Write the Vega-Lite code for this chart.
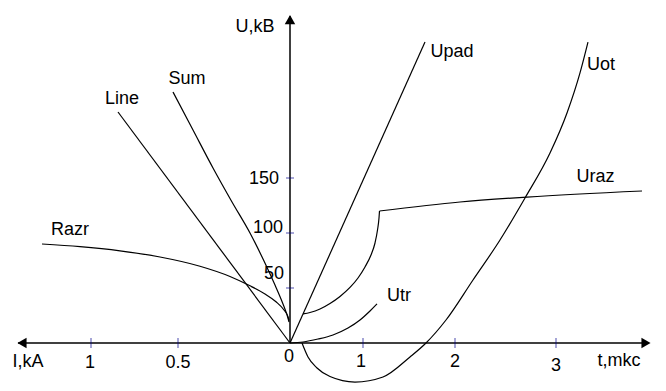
{
  "$schema": "https://vega.github.io/schema/vega-lite/v6.json",
  "width": 666,
  "height": 391,
  "autosize": {"type": "fit", "contains": "padding"},
  "padding": 0,
  "background": "white",
  "config": {"view": {"stroke": null}, "text": {"font": "Liberation Sans", "fontSize": 18, "color": "black"}},
  "datasets": {
    "curves": [
      {"seg": "Razr", "x": -2.48, "y": 90.0},
      {"seg": "Razr", "x": -2.10, "y": 87.6},
      {"seg": "Razr", "x": -1.70, "y": 83.8},
      {"seg": "Razr", "x": -1.30, "y": 78.2},
      {"seg": "Razr", "x": -0.90, "y": 69.8},
      {"seg": "Razr", "x": -0.60, "y": 60.5},
      {"seg": "Razr", "x": -0.40, "y": 52.0},
      {"seg": "Razr", "x": -0.25, "y": 44.5},
      {"seg": "Razr", "x": -0.14, "y": 37.5},
      {"seg": "Razr", "x": -0.06, "y": 30.0},
      {"seg": "Razr", "x": -0.02, "y": 24.0},
      {"seg": "Razr", "x": -0.01, "y": 20.5},
      {"seg": "Sum", "x": -1.17, "y": 228.2},
      {"seg": "Sum", "x": -0.97, "y": 193.6},
      {"seg": "Sum", "x": -0.77, "y": 159.1},
      {"seg": "Sum", "x": -0.58, "y": 128.2},
      {"seg": "Sum", "x": -0.40, "y": 100.0},
      {"seg": "Sum", "x": -0.26, "y": 74.5},
      {"seg": "Sum", "x": -0.15, "y": 52.7},
      {"seg": "Sum", "x": -0.07, "y": 35.5},
      {"seg": "Sum", "x": -0.03, "y": 25.5},
      {"seg": "Sum", "x": -0.01, "y": 19.1},
      {"seg": "Line", "x": -1.72, "y": 210.0},
      {"seg": "Line", "x": 0, "y": 0},
      {"seg": "Upad", "x": 0, "y": 0},
      {"seg": "Upad", "x": 1.35, "y": 273.6},
      {"seg": "Utr", "x": 0, "y": 0},
      {"seg": "Utr", "x": 0.13, "y": 0.9},
      {"seg": "Utr", "x": 0.28, "y": 3.6},
      {"seg": "Utr", "x": 0.43, "y": 7.3},
      {"seg": "Utr", "x": 0.58, "y": 13.6},
      {"seg": "Utr", "x": 0.70, "y": 20.9},
      {"seg": "Utr", "x": 0.80, "y": 29.1},
      {"seg": "Utr", "x": 0.87, "y": 35.5},
      {"seg": "Uraz-a", "x": 0.13, "y": 26.4},
      {"seg": "Uraz-a", "x": 0.20, "y": 27.7},
      {"seg": "Uraz-a", "x": 0.30, "y": 30.9},
      {"seg": "Uraz-a", "x": 0.40, "y": 35.9},
      {"seg": "Uraz-a", "x": 0.50, "y": 42.3},
      {"seg": "Uraz-a", "x": 0.60, "y": 50.5},
      {"seg": "Uraz-a", "x": 0.68, "y": 59.1},
      {"seg": "Uraz-a", "x": 0.75, "y": 69.1},
      {"seg": "Uraz-a", "x": 0.81, "y": 80.0},
      {"seg": "Uraz-a", "x": 0.85, "y": 90.9},
      {"seg": "Uraz-a", "x": 0.875, "y": 102.7},
      {"seg": "Uraz-a", "x": 0.89, "y": 113.6},
      {"seg": "Uraz-a", "x": 0.895, "y": 120.0},
      {"seg": "Uraz-b", "x": 0.895, "y": 120.0},
      {"seg": "Uraz-b", "x": 1.70, "y": 128.2},
      {"seg": "Uraz-b", "x": 2.37, "y": 132.7},
      {"seg": "Uraz-b", "x": 3.52, "y": 138.2},
      {"seg": "Uot", "x": 0.12, "y": 0},
      {"seg": "Uot", "x": 0.18, "y": -12.7},
      {"seg": "Uot", "x": 0.27, "y": -22.7},
      {"seg": "Uot", "x": 0.40, "y": -30.5},
      {"seg": "Uot", "x": 0.65, "y": -35.5},
      {"seg": "Uot", "x": 0.93, "y": -30.9},
      {"seg": "Uot", "x": 1.20, "y": -12.7},
      {"seg": "Uot", "x": 1.36, "y": 0},
      {"seg": "Uot", "x": 1.56, "y": 20.9},
      {"seg": "Uot", "x": 1.83, "y": 57.3},
      {"seg": "Uot", "x": 2.10, "y": 93.6},
      {"seg": "Uot", "x": 2.35, "y": 131.8},
      {"seg": "Uot", "x": 2.60, "y": 172.7},
      {"seg": "Uot", "x": 2.77, "y": 209.1},
      {"seg": "Uot", "x": 2.90, "y": 245.5},
      {"seg": "Uot", "x": 2.98, "y": 273.6}
    ],
    "axes": [
      {"x": -2.72, "y": 0, "x2": 3.58, "y2": 0},
      {"x": 0, "y": 0, "x2": 0, "y2": 297}
    ],
    "arrows": [
      {"dir": "left", "x": -2.68, "y": 0},
      {"dir": "right", "x": 3.56, "y": 0},
      {"dir": "up", "x": 0, "y": 294}
    ],
    "xticks": [
      {"x": -1.99}, {"x": -1.12}, {"x": 0.73}, {"x": 1.65}, {"x": 2.66}
    ],
    "yticks": [
      {"y": 50}, {"y": 100}, {"y": 150}
    ],
    "labels": [
      {"t": "0", "x": -0.01, "y": -12.7},
      {"t": "1", "x": -2.0, "y": -18.2},
      {"t": "0.5", "x": -1.12, "y": -18.2},
      {"t": "I,kA", "x": -2.62, "y": -17.3},
      {"t": "1", "x": 0.71, "y": -17.3},
      {"t": "2", "x": 1.65, "y": -17.3},
      {"t": "3", "x": 2.66, "y": -20.9},
      {"t": "t,mkc", "x": 3.29, "y": -16.4},
      {"t": "U,kB", "x": -0.35, "y": 287.3},
      {"t": "150", "x": -0.26, "y": 149.1},
      {"t": "100", "x": -0.22, "y": 104.5},
      {"t": "50", "x": -0.16, "y": 62.5},
      {"t": "Razr", "x": -2.2, "y": 102.7},
      {"t": "Line", "x": -1.68, "y": 221.5},
      {"t": "Sum", "x": -1.03, "y": 240.0},
      {"t": "Upad", "x": 1.62, "y": 264.5},
      {"t": "Uot", "x": 3.11, "y": 252.7},
      {"t": "Uraz", "x": 3.055, "y": 150.9},
      {"t": "Utr", "x": 1.09, "y": 42.7}
    ]
  },
  "layer": [
    {
      "data": {"name": "axes"},
      "mark": {"type": "rule", "color": "black", "strokeWidth": 1.5},
      "encoding": {
        "x": {"field": "x", "type": "quantitative", "scale": {"domain": [-2.9, 3.76], "nice": false, "zero": false}, "axis": null},
        "y": {"field": "y", "type": "quantitative", "scale": {"domain": [-43.64, 311.82], "nice": false, "zero": false}, "axis": null},
        "x2": {"field": "x2"},
        "y2": {"field": "y2"}
      }
    },
    {
      "data": {"name": "arrows"},
      "mark": {"type": "point", "filled": true, "color": "black", "size": 110, "opacity": 1},
      "encoding": {
        "x": {"field": "x", "type": "quantitative"},
        "y": {"field": "y", "type": "quantitative"},
        "shape": {"field": "dir", "type": "nominal", "scale": {"domain": ["left", "right", "up"], "range": ["triangle-left", "triangle-right", "triangle-up"]}, "legend": null}
      }
    },
    {
      "data": {"name": "xticks"},
      "mark": {"type": "tick", "orient": "vertical", "size": 10, "thickness": 1, "color": "#00008b"},
      "encoding": {
        "x": {"field": "x", "type": "quantitative"},
        "y": {"datum": 0, "type": "quantitative"}
      }
    },
    {
      "data": {"name": "yticks"},
      "mark": {"type": "tick", "orient": "horizontal", "size": 8, "thickness": 1, "color": "#00008b"},
      "encoding": {
        "x": {"datum": 0, "type": "quantitative"},
        "y": {"field": "y", "type": "quantitative"}
      }
    },
    {
      "data": {"name": "curves"},
      "mark": {"type": "line", "interpolate": "monotone", "color": "black", "strokeWidth": 1.2},
      "encoding": {
        "x": {"field": "x", "type": "quantitative"},
        "y": {"field": "y", "type": "quantitative"},
        "detail": {"field": "seg", "type": "nominal"}
      }
    },
    {
      "data": {"name": "labels"},
      "mark": {"type": "text", "align": "center", "baseline": "middle"},
      "encoding": {
        "x": {"field": "x", "type": "quantitative"},
        "y": {"field": "y", "type": "quantitative"},
        "text": {"field": "t", "type": "nominal"}
      }
    }
  ]
}
